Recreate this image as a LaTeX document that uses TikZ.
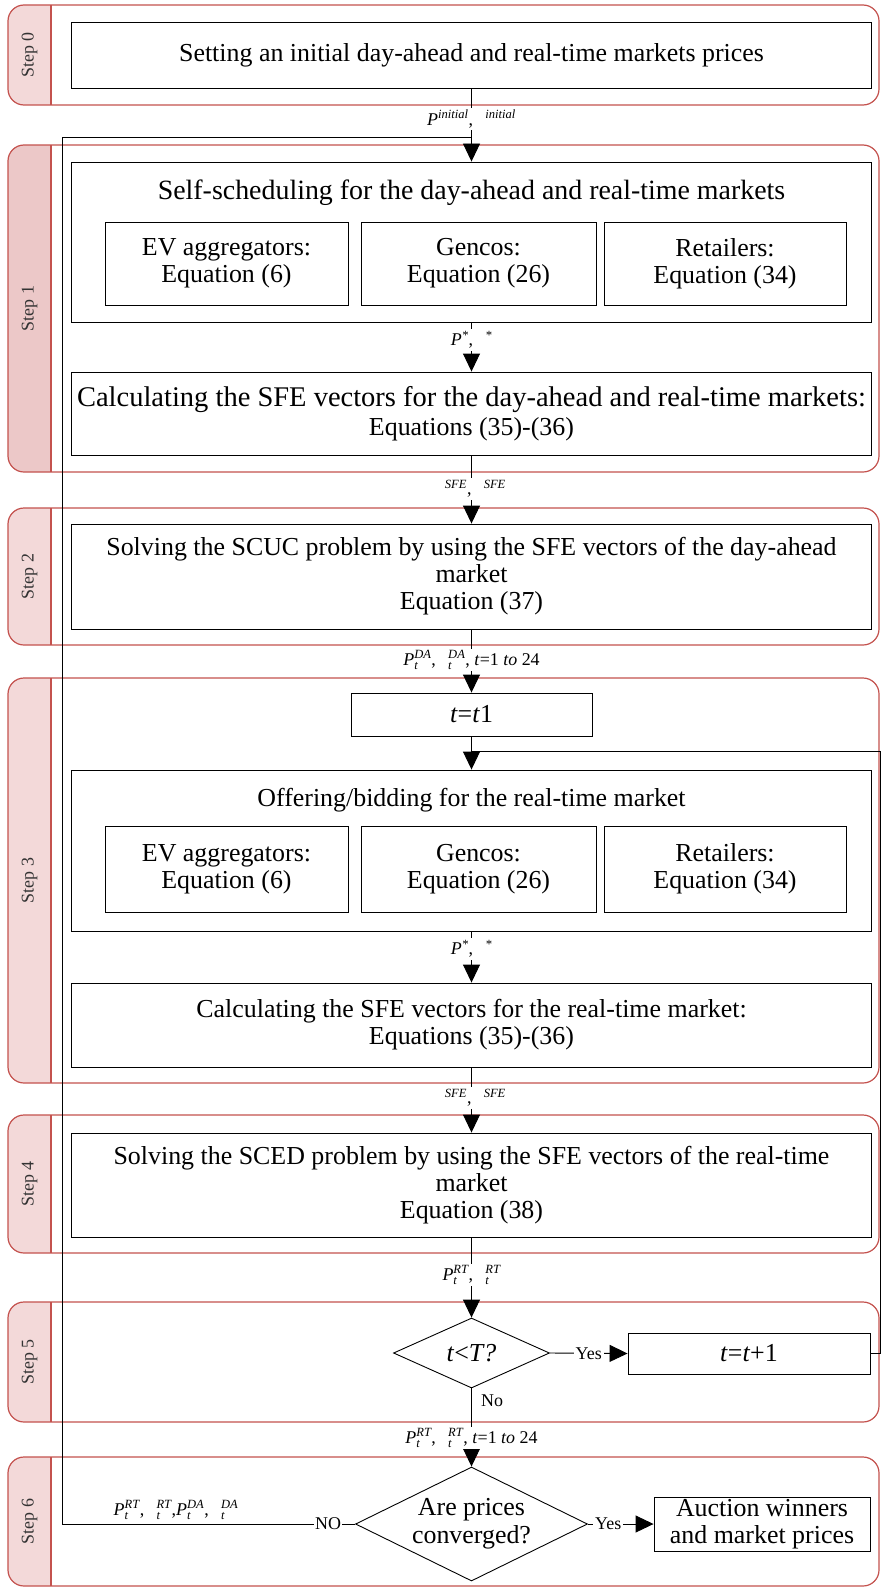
\documentclass[tikz,border=0pt]{standalone}
\usepackage{fontspec}
\setmainfont{Liberation Serif}
\setsansfont{Liberation Sans}
\usepackage{amsmath}
\usetikzlibrary{arrows.meta,shapes.geometric}

\definecolor{laneline}{RGB}{196,82,78}
\definecolor{lanetab}{RGB}{243,217,217}
\definecolor{lanetabdeep}{RGB}{236,200,200}

\newcommand{\vi}[1]{\textit{#1}}
% italic superscripts / subscripts in the text font
\newcommand{\up}[1]{$^{\textit{#1}}$}
\newcommand{\updn}[2]{$^{\textit{#1}}_{\textit{#2}}$}
\newcommand{\gap}{\phantom{\textit{λ}}}

% swimlane: node name, top, bottom, label, tab colour
\newcommand{\lane}[5]{%
  \begin{scope}
    \clip (8,#2) rectangle (51,#3);
    \fill[#5, rounded corners=16bp] (8,#2) rectangle (879,#3);
  \end{scope}
  \draw[laneframe] (51,#2) -- (51,#3);
  \draw[laneframe, rounded corners=16bp] (8,#2) rectangle (879,#3);
  \node[steplabel, rotate=90] (#1) at (29.5,{(#2+#3)/2}) {#4};
}

\begin{document}
\begin{tikzpicture}[x=1bp,y=-1bp,
  laneframe/.style={draw=laneline, line width=1.2bp},
  steplabel/.style={font=\rmfamily\fontsize{18}{20}\selectfont, text=black!80},
  box/.style={draw, line width=0.9bp, align=center, inner sep=0pt,
    font=\rmfamily\fontsize{26}{27}\selectfont},
  plain/.style={align=center, inner sep=0pt, font=\rmfamily\fontsize{26}{27}\selectfont},
  flowlabel/.style={fill=white, inner sep=2bp, font=\rmfamily\fontsize{18}{20}\selectfont},
  sidelabel/.style={inner sep=1bp, font=\rmfamily\fontsize{18}{20}\selectfont},
  decision/.style={draw, diamond, line width=0.9bp, align=center, inner sep=0pt,
    font=\rmfamily\fontsize{26}{28}\selectfont},
  wire/.style={line width=0.9bp},
  arrow/.style={wire, -{Triangle[width=17bp,length=18bp]}},
]
\useasboundingbox (0,0) rectangle (881,1589);
\fill[white] (0,0) rectangle (881,1589);

% swimlanes
\lane{s0}{5}{105}{Step 0}{lanetab}
\lane{s1}{145}{472}{Step 1}{lanetabdeep}
\lane{s2}{508}{645}{Step 2}{lanetab}
\lane{s3}{678}{1083}{Step 3}{lanetab}
\lane{s4}{1115}{1253}{Step 4}{lanetab}
\lane{s5}{1302}{1422}{Step 5}{lanetab}
\lane{s6}{1457}{1586}{Step 6}{lanetab}

% step 0
\node[box, minimum width=800bp, minimum height=66bp] (init) at (471.5,55)
  {Setting an initial day-ahead and real-time markets prices};

% step 1
\node[box, minimum width=800bp, minimum height=160bp] (self) at (471.5,242) {};
\node[plain, font=\rmfamily\fontsize{28}{30}\selectfont] (selftitle) at (471.5,193)
  {Self-scheduling for the day-ahead and real-time markets};
\node[box, minimum width=243bp, minimum height=83bp] (evA) at (226.5,263.5)
  {EV aggregators:\\Equation (6)};
\node[box, minimum width=235bp, minimum height=83bp] (genA) at (478.5,263.5)
  {Gencos:\\Equation (26)};
\node[box, minimum width=242bp, minimum height=83bp] (retA) at (725,263.5)
  {Retailers:\\Equation (34)};
\node[box, minimum width=800bp, minimum height=83bp, font=\rmfamily\fontsize{28.6}{29}\selectfont] (sfeA) at (471.5,413.5)
  {Calculating the SFE vectors for the day-ahead and real-time markets:\\\fontsize{26}{29}\selectfont Equations (35)-(36)};

% step 2
\node[box, minimum width=800bp, minimum height=105bp] (scuc) at (471.5,576.5)
  {Solving the SCUC problem by using the SFE vectors of the day-ahead\\market\\Equation (37)};

% step 3
\node[box, minimum width=241bp, minimum height=43bp] (tinit) at (471.5,714.5)
  {\vi{t}=\vi{t}1};
\node[box, minimum width=800bp, minimum height=161bp] (offer) at (471.5,850.5) {};
\node[plain] (offertitle) at (471.5,800)
  {Offering/bidding for the real-time market};
\node[box, minimum width=243bp, minimum height=86bp] (evB) at (226.5,869)
  {EV aggregators:\\Equation (6)};
\node[box, minimum width=235bp, minimum height=86bp] (genB) at (478.5,869)
  {Gencos:\\Equation (26)};
\node[box, minimum width=242bp, minimum height=86bp] (retB) at (725,869)
  {Retailers:\\Equation (34)};
\node[box, minimum width=800bp, minimum height=84bp] (sfeB) at (471.5,1025)
  {Calculating the SFE vectors for the real-time market:\\Equations (35)-(36)};

% step 4
\node[box, minimum width=800bp, minimum height=104bp] (sced) at (471.5,1185)
  {Solving the SCED problem by using the SFE vectors of the real-time\\market\\Equation (38)};

% step 5
\node[decision, minimum width=156bp, minimum height=70bp, aspect=2.2] (tcheck) at (471.5,1353)
  {\vi{t}<\vi{T?}};
\node[box, minimum width=242bp, minimum height=41bp] (tnext) at (749,1353.5)
  {\vi{t}=\vi{t}+1};

% step 6
\node[decision, minimum width=232bp, minimum height=114bp, aspect=2] (conv) at (471.5,1524)
  {Are prices\\converged?};
\node[box, minimum width=216bp, minimum height=54bp] (result) at (762,1524)
  {Auction winners\\and market prices};

% loop coordinates
\coordinate (backLow) at (62,1524);
\coordinate (backHigh) at (62,137);
\coordinate (backJoin) at (471.5,137);
\coordinate (loopLow) at (880,1353.5);
\coordinate (loopHigh) at (880,751);
\coordinate (loopJoin) at (471.5,751);

% main flow
\draw[arrow] (init.south) -- (self.north);
\draw[arrow] (self.south) -- (sfeA.north);
\draw[arrow] (sfeA.south) -- (scuc.north);
\draw[arrow] (scuc.south) -- (tinit.north);
\draw[arrow] (tinit.south) -- (offer.north);
\draw[arrow] (offer.south) -- (sfeB.north);
\draw[arrow] (sfeB.south) -- (sced.north);
\draw[arrow] (sced.south) -- (tcheck.north);
\draw[arrow] (tcheck.south) -- (conv.north);
\draw[arrow] (tcheck.east) -- node[flowlabel, pos=0.5] (yesA) {Yes} (tnext.west);
\draw[arrow] (conv.east) -- node[flowlabel, pos=0.31] (yesB) {Yes} (result.west);

% hourly loop and outer iteration
\draw[wire] (tnext.east) -- (loopLow) -- (loopHigh) -- (loopJoin);
\draw[wire] (conv.west) -- node[flowlabel, inner sep=1bp, pos=0.092] (noB) {NO}
  (backLow) -- (backHigh) -- (backJoin);

% flow labels
\node[flowlabel] (lbInit) at (471.5,119) {\vi{P}\up{initial}, \gap\up{initial}};
\node[flowlabel] (lbStarA) at (471.5,340) {\vi{P}\up{*}, \gap\up{*}};
\node[flowlabel] (lbSfeA) at (471.5,489) {\gap\up{SFE}, \gap\up{SFE}};
\node[flowlabel] (lbDA) at (471.5,660)
  {\vi{P}\updn{DA}{t}, \gap\updn{DA}{t}, \vi{t}=1 \vi{to} 24};
\node[flowlabel] (lbStarB) at (471.5,949) {\vi{P}\up{*}, \gap\up{*}};
\node[flowlabel] (lbSfeB) at (471.5,1098) {\gap\up{SFE}, \gap\up{SFE}};
\node[flowlabel] (lbRT) at (471.5,1275) {\vi{P}\updn{RT}{t}, \gap\updn{RT}{t}};
\node[flowlabel] (lbRTall) at (471.5,1438)
  {\vi{P}\updn{RT}{t}, \gap\updn{RT}{t}, \vi{t}=1 \vi{to} 24};
\node[sidelabel, anchor=west] (noA) at (480,1401) {No};
\node[sidelabel] (lbBack) at (176,1510)
  {\vi{P}\updn{RT}{t}, \gap\updn{RT}{t},\vi{P}\updn{DA}{t}, \gap\updn{DA}{t}};
\end{tikzpicture}
\end{document}
